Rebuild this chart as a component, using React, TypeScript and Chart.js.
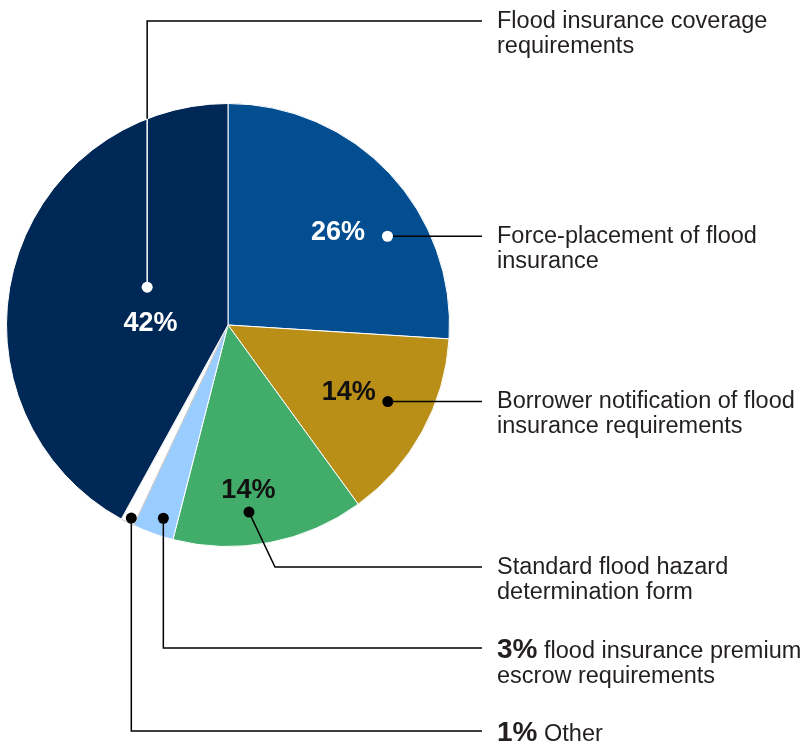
import React, { useEffect, useRef } from "react";
import { Chart, registerables } from "chart.js";

Chart.register(...registerables);

// ---------- data ----------
const categories = [
  "Force-placement of flood insurance",
  "Borrower notification of flood insurance requirements",
  "Standard flood hazard determination form",
  "Flood insurance premium escrow requirements",
  "Other",
  "Flood insurance coverage requirements",
];
const shares = [26, 14, 14, 3, 1, 42];
const sliceColors = ["#034E91", "#B98F18", "#42AC6A", "#99CCFF", "#FFFFFF", "#002856"];
const sliceBorders = ["#FFFFFF", "#FFFFFF", "#FFFFFF", "#FFFFFF", "#BDBDBD", "#FFFFFF"];
const labelLines = [
  ["Force-placement of flood", "insurance"],
  ["Borrower notification of flood", "insurance requirements"],
  ["Standard flood hazard", "determination form"],
  [" flood insurance premium", "escrow requirements"],
  [" Other"],
  ["Flood insurance coverage", "requirements"],
];
const percentInLegend = [false, false, false, true, true, false];
const percentInSlice = [true, true, true, false, false, true];
const sliceTextColors = ["#FFFFFF", "#111111", "#111111", "#111111", "#111111", "#FFFFFF"];

// ---------- annotation layout (relative to arcs) ----------
// [radius fraction, angle offset in degrees from slice middle]
const valueLabelPlace = [[0.65, 3], [0.625, 0.5], [0.755, 3.8], null, null, [0.35, -13.5]];
const dotPlace = [[0.824, 14.1], [0.8, -3.2], [0.85, 4.4], [0.92, -1.3], [0.975, -0.4], [0.403, 10.7]];
const dotColors = ["#FFFFFF", "#000000", "#000000", "#000000", "#000000", "#FFFFFF"];
const innerLineColors = ["#000000", "#000000", "#000000", "#000000", "#000000", "#FFFFFF"];
// route: 'h' horizontal; 'v' vertical then horizontal; 'd' diagonal then horizontal
const routeKind = ["h", "h", "d", "v", "v", "v"];
const routeY = [null, null, 567, 648, 731, 21];
const LINE_END_X = 482;
const TEXT_X = 497;
const TEXT_COLOR = "#231F20";
const FONT = "'Liberation Sans', Arial, sans-serif";
const TEXT_SIZE = 23.5;

const annotationPlugin = {
  id: "leaderLabels",
  afterDraw(chart: any) {
    const ctx = chart.ctx as CanvasRenderingContext2D;
    const meta = chart.getDatasetMeta(0);
    ctx.save();
    meta.data.forEach((arc: any, i: number) => {
      const { x: cx, y: cy, startAngle, endAngle, outerRadius: R } = arc.getProps(
        ["x", "y", "startAngle", "endAngle", "outerRadius"],
        true
      );
      const mid = (startAngle + endAngle) / 2;
      // value label inside slice
      const vp = valueLabelPlace[i];
      if (percentInSlice[i] && vp) {
        const a = mid + (vp[1] * Math.PI) / 180;
        const lx = cx + R * vp[0] * Math.cos(a);
        const ly = cy + R * vp[0] * Math.sin(a);
        ctx.font = `bold 27px ${FONT}`;
        ctx.fillStyle = sliceTextColors[i];
        ctx.textAlign = "center";
        ctx.textBaseline = "middle";
        ctx.fillText(`${shares[i]}%`, lx, ly);
      }
      // dot
      const dp = dotPlace[i];
      const da = mid + (dp[1] * Math.PI) / 180;
      const dx = cx + R * dp[0] * Math.cos(da);
      const dy = cy + R * dp[0] * Math.sin(da);
      ctx.lineWidth = 1.5;
      const kind = routeKind[i];
      let leaderY = dy;
      ctx.beginPath();
      if (kind === "h") {
        ctx.strokeStyle = "#000";
        ctx.moveTo(dx, dy);
        ctx.lineTo(LINE_END_X, dy);
        ctx.stroke();
      } else if (kind === "d") {
        const ry = routeY[i] as number;
        leaderY = ry;
        ctx.strokeStyle = "#000";
        ctx.moveTo(dx, dy);
        ctx.lineTo(dx + 26, ry);
        ctx.lineTo(LINE_END_X, ry);
        ctx.stroke();
      } else {
        const ry = routeY[i] as number;
        leaderY = ry;
        const off = dx - cx;
        const half = Math.sqrt(Math.max(R * R - off * off, 0));
        const exitY = ry < dy ? cy - half : cy + half;
        ctx.strokeStyle = innerLineColors[i];
        ctx.moveTo(dx, dy);
        ctx.lineTo(dx, exitY);
        ctx.stroke();
        ctx.beginPath();
        ctx.strokeStyle = "#000";
        ctx.moveTo(dx, exitY);
        ctx.lineTo(dx, ry);
        ctx.lineTo(LINE_END_X, ry);
        ctx.stroke();
      }
      ctx.beginPath();
      ctx.fillStyle = dotColors[i];
      ctx.arc(dx, dy, 5.5, 0, Math.PI * 2);
      ctx.fill();

      // legend text
      ctx.textAlign = "left";
      ctx.textBaseline = "alphabetic";
      ctx.fillStyle = TEXT_COLOR;
      const lines = labelLines[i];
      let baseY: number;
      if (percentInLegend[i]) {
        baseY = leaderY + 10;
        ctx.font = `bold 28px ${FONT}`;
        const pct = `${shares[i]}%`;
        ctx.fillText(pct, TEXT_X, baseY);
        const w = ctx.measureText(pct).width;
        ctx.font = `${TEXT_SIZE}px ${FONT}`;
        ctx.fillText(lines[0], TEXT_X + w, baseY);
      } else {
        baseY = leaderY + 6.5;
        ctx.font = `${TEXT_SIZE}px ${FONT}`;
        ctx.fillText(lines[0], TEXT_X, baseY);
      }
      ctx.font = `${TEXT_SIZE}px ${FONT}`;
      for (let k = 1; k < lines.length; k++) {
        ctx.fillText(lines[k], TEXT_X, baseY + 25 * k);
      }
    });
    ctx.restore();
  },
};

export default function App() {
  const canvasRef = useRef<HTMLCanvasElement | null>(null);
  useEffect(() => {
    if (!canvasRef.current) return;
    const chart = new Chart(canvasRef.current, {
      type: "pie",
      data: {
        labels: categories,
        datasets: [
          {
            data: shares,
            backgroundColor: sliceColors,
            borderColor: sliceBorders,
            borderWidth: 1,
          },
        ],
      },
      options: {
        responsive: false,
        animation: false,
        layout: { padding: { left: 6, top: 103, right: 357, bottom: 200 } },
        plugins: {
          legend: { display: false },
          tooltip: { enabled: false },
        },
      },
      plugins: [annotationPlugin],
    });
    return () => chart.destroy();
  }, []);
  return (
    <div style={{ position: "absolute", left: 0, top: 0, width: 807, height: 747, background: "#fff" }}>
      <canvas ref={canvasRef} width={807} height={747} style={{ width: 807, height: 747 }} />
    </div>
  );
}
